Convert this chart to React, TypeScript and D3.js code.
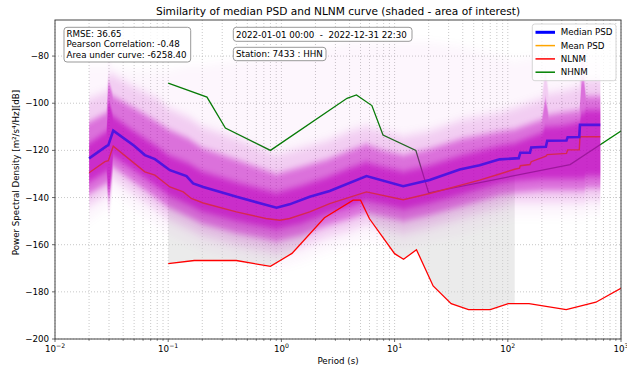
import React from 'react';
import * as d3 from 'd3';

const W = 627, H = 373;
const L = 55, R = 621, T = 20, B = 339;

const X_TICKS = [0.01, 0.1, 1, 10, 100, 1000];
const X_TICK_EXP = ['\u22122', '\u22121', '0', '1', '2', '3'];
const Y_TICKS = [-200, -180, -160, -140, -120, -100, -80];

const NLNM_P = [0.1, 0.17, 0.4, 0.8, 1.24, 2.4, 4.3, 5, 6, 10, 12, 15.6, 21.9, 31.6, 45, 70, 101, 154, 328, 600, 10000];
const NLNM_DB = [-168, -166.7, -166.7, -169.2, -163.7, -148.6, -141.1, -141.1, -149, -163.8, -166.2, -162.1, -177.5, -185, -187.5, -187.5, -185, -185, -187.5, -184.4, -151.9];

const NHNM_P = [0.1, 0.22, 0.32, 0.8, 3.8, 4.6, 6.3, 7.9, 15.4, 20, 354.8, 10000];
const NHNM_DB = [-91.5, -97.4, -110.5, -120, -97.9, -96.5, -101, -113.5, -120, -138, -126, -80.1];

const MED_P = [0.02, 0.0285, 0.0296, 0.0327, 0.05, 0.0622, 0.0763, 0.1035, 0.145, 0.166, 0.204, 0.402, 0.906, 1.18, 1.78, 2.67, 5.64, 11.9, 20.4, 37.6, 56.4, 84.7, 125, 129, 157, 161, 217, 223, 330, 338, 428, 434, 656];
const MED_DB = [-123.4, -118.2, -117.8, -111.6, -118, -122, -123.7, -128.4, -130.9, -134, -135.5, -139.7, -144.3, -142.9, -139.7, -137.2, -130.9, -135.2, -132.6, -128.1, -126.3, -123.8, -123.3, -121, -121, -118.8, -118.5, -115.9, -115.8, -114.4, -114.3, -109.2, -109.2];

const MEAN_P = [0.02, 0.0276, 0.0296, 0.0327, 0.0622, 0.0763, 0.1035, 0.136, 0.16, 0.204, 0.4, 0.73, 0.97, 1.18, 1.78, 2.67, 5.64, 11.9, 20.4, 56.4, 84.7, 115, 127, 129, 157, 161, 217, 223, 330, 338, 428, 434, 656];
const MEAN_DB = [-129.5, -124.8, -124.4, -118.2, -129.1, -130.5, -135.5, -137.6, -140.4, -142.3, -146.1, -148.9, -149.6, -148.9, -146.1, -142.6, -137.6, -140.9, -138.3, -132.6, -130, -128, -127.5, -126.5, -126, -124.8, -122.5, -121.8, -121.3, -119.8, -119.8, -114.2, -114.2];

// Density cloud of the individual PSD curves, summarised as nested bands
const BAND_P = [0.02, 0.0285, 0.0296, 0.0303, 0.0327, 0.05, 0.08, 0.1, 0.15, 0.2, 0.4, 0.9, 1.5, 2.5, 4, 5.6, 8, 12, 20, 40, 85, 115, 200, 215, 230, 300, 430, 450, 470, 490, 660];
const F_HI = [-84, -84, -80, -80, -84, -86, -86, -86, -84, -84, -82, -80, -78, -76, -74, -74, -74, -74, -74, -76, -80, -82, -80, -80, -80, -80, -80, -78, -78, -80, -80];
const M_HI = [-98, -95, -88, -88, -88, -93, -98, -102, -106, -110, -115, -122, -119, -116, -112, -110, -112, -114, -112, -107, -104, -102, -98, -86, -96, -95, -93, -78, -78, -90, -90];
const D_HI = [-108, -104, -92, -92, -97, -102, -108, -111, -115, -119, -124, -130, -127, -124, -120, -117.5, -120, -122, -119.5, -115, -112, -111, -107, -98, -105, -104, -103, -90, -90, -97, -97];
const C_HI = [-117, -112, -100, -100, -105.5, -112, -118.5, -122, -125.5, -129, -133.5, -138, -135, -131.5, -127.5, -125, -127, -129, -126.5, -122, -118, -117, -112.5, -110, -110, -109.5, -108, -104, -104, -103, -103];
const C_LO = [-133.5, -129, -136, -136, -122.5, -128.5, -135.5, -139, -143, -146, -150, -153.5, -151, -147, -144, -141.5, -143, -145, -142.5, -138.5, -134, -133, -132, -132, -132, -132, -132, -132, -132, -131, -131];
const D_LO = [-138.5, -134, -140, -140, -127, -133.5, -140.5, -144, -148, -151, -155, -158.5, -156, -152, -149, -146.5, -148, -150, -147.5, -143.5, -139, -138, -137, -137, -137, -137, -137, -137, -137, -136, -136];
const M_LO = [-143.5, -139, -144, -144, -132, -138.5, -145.5, -149, -153, -156, -160, -163.5, -161, -157, -154, -151.5, -153, -155, -152.5, -148.5, -144, -142, -142, -142, -142, -142, -142, -142, -142, -141, -141];
const F_LO = [-150, -145, -148, -148, -138, -145, -152, -155, -159, -162, -166, -170, -167, -163, -160, -158, -159, -161, -158, -155, -150, -148, -148, -148, -148, -148, -148, -148, -148, -147, -147];

const SHADE_RANGE = [0.1, 115];

const STATS = ['RMSE: 36.65', 'Pearson Correlation: -0.48', 'Area under curve: -6258.40'];
const DATE_TEXT = '2022-01-01 00:00  -  2022-12-31 22:30';
const STATION_TEXT = 'Station: 7433 : HHN';
const LEGEND = [
  { label: 'Median PSD', color: '#0000ff', w: 3 },
  { label: 'Mean PSD', color: '#ffa500', w: 1.5 },
  { label: 'NLNM', color: '#ff0000', w: 1.5 },
  { label: 'NHNM', color: '#008000', w: 1.5 },
];

const FONT = 'DejaVu Sans, sans-serif';
const FS = 8.7;

function interpLog(ps: number[], vs: number[], p: number) {
  for (let i = 0; i < ps.length - 1; i++) {
    if (p >= ps[i] && p <= ps[i + 1]) {
      const t = (Math.log10(p) - Math.log10(ps[i])) / (Math.log10(ps[i + 1]) - Math.log10(ps[i]));
      return vs[i] + t * (vs[i + 1] - vs[i]);
    }
  }
  return vs[vs.length - 1];
}

export default function App() {
  const x = d3.scaleLog().domain([0.01, 1000]).range([L, R]);
  const y = d3.scaleLinear().domain([-200, -64.7]).range([B, T]);
  const line = d3.line<[number, number]>().x(d => x(d[0])).y(d => y(d[1]));
  const zip = (ps: number[], vs: number[]) => ps.map((p, i) => [p, vs[i]] as [number, number]);

  const band = (lo: number[], hi: number[]) =>
    d3.area<number>().x(i => x(BAND_P[i])).y0(i => y(lo[i])).y1(i => y(hi[i]))(BAND_P.map((_, i) => i)) || '';

  const [s0, s1] = SHADE_RANGE;
  const top: [number, number][] = [[s0, interpLog(MEAN_P, MEAN_DB, s0)],
    ...zip(MEAN_P, MEAN_DB).filter(d => d[0] > s0 && d[0] < s1),
    [s1, interpLog(MEAN_P, MEAN_DB, s1)]];
  const bot: [number, number][] = [[s1, interpLog(NLNM_P, NLNM_DB, s1)],
    ...zip(NLNM_P, NLNM_DB).filter(d => d[0] > s0 && d[0] < s1).reverse(),
    [s0, interpLog(NLNM_P, NLNM_DB, s0)]];
  const shadePath = (line([...top, ...bot]) || '') + 'Z';

  const minors: number[] = [];
  for (let e = -2; e < 3; e++) for (let k = 2; k < 10; k++) minors.push(k * Math.pow(10, e));

  const M = '#bf00bf';
  const x0 = x(BAND_P[0]), x1 = x(BAND_P[BAND_P.length - 1]);

  return (
    <div style={{ position: 'fixed', left: 0, top: 0 }}>
      <svg width={W} height={H} style={{ display: 'block', background: '#fff' }} fontFamily={FONT}>
        <defs>
          <clipPath id="plot"><rect x={L} y={T} width={R - L} height={B - T} /></clipPath>
          <clipPath id="cloudx"><rect x={x0} y={T} width={x1 - x0} height={B - T} /></clipPath>
          <filter id="soft4" x="-10%" y="-20%" width="120%" height="140%">
            <feGaussianBlur stdDeviation="0 5" />
          </filter>
          <filter id="soft2" x="-10%" y="-20%" width="120%" height="140%">
            <feGaussianBlur stdDeviation="0 3" />
          </filter>
        </defs>
        <g stroke="#b0b0b0" strokeWidth={0.7} strokeDasharray="1,2">
          {[...X_TICKS, ...minors].map((t, i) => <line key={'gx' + i} x1={x(t)} x2={x(t)} y1={T} y2={B} />)}
          {Y_TICKS.map((t, i) => <line key={'gy' + i} x1={L} x2={R} y1={y(t)} y2={y(t)} />)}
        </g>
        <g clipPath="url(#plot)">
          <path d={shadePath} fill="#d3d3d3" fillOpacity={0.45} />
          <path d={line(zip(NHNM_P, NHNM_DB)) || ''} fill="none" stroke="#008000" strokeWidth={1.3} />
          <g clipPath="url(#cloudx)">
            <g filter="url(#soft4)">
              <path d={band(F_LO, F_HI)} fill={M} fillOpacity={0.035} />
              <path d={band(M_LO, M_HI)} fill={M} fillOpacity={0.17} />
            </g>
            <g filter="url(#soft2)">
              <path d={band(D_LO, D_HI)} fill={M} fillOpacity={0.45} />
              <path d={band(C_LO, C_HI)} fill={M} fillOpacity={0.6} />
            </g>
          </g>
          <path d={line(zip(MEAN_P, MEAN_DB)) || ''} fill="none" stroke="#d72850" strokeWidth={1.4} />
          <path d={line(zip(MED_P, MED_DB)) || ''} fill="none" stroke="#5014e0" strokeWidth={2.6} />
          <path d={line(zip(NLNM_P, NLNM_DB)) || ''} fill="none" stroke="#ff0000" strokeWidth={1.3} />
        </g>
        <rect x={L} y={T} width={R - L} height={B - T} fill="none" stroke="#444" strokeWidth={1} />
        <g stroke="#444" strokeWidth={0.8}>
          {X_TICKS.map((t, i) => <line key={'xt' + i} x1={x(t)} x2={x(t)} y1={B} y2={B + 3} />)}
          {minors.map((t, i) => <line key={'xm' + i} x1={x(t)} x2={x(t)} y1={B} y2={B + 1.7} />)}
          {Y_TICKS.map((t, i) => <line key={'yt' + i} x1={L - 3} x2={L} y1={y(t)} y2={y(t)} />)}
        </g>
        <g fontSize={FS} fill="#000">
          {X_TICKS.map((t, i) => (
            <text key={'xl' + i} x={x(t)} y={352} textAnchor="middle">
              10<tspan fontSize={6.2} dy={-4}>{X_TICK_EXP[i]}</tspan>
            </text>
          ))}
          {Y_TICKS.map((t, i) => (
            <text key={'yl' + i} x={L - 6} y={y(t)} textAnchor="end" dominantBaseline="central">
              {'\u2212' + Math.abs(t)}
            </text>
          ))}
          <text x={(L + R) / 2} y={364} textAnchor="middle">Period (s)</text>
          <text transform={`translate(18.5,172.5) rotate(-90)`} textAnchor="middle">Power Spectral Density [m²/s⁴/Hz][dB]</text>
        </g>
        <text x={(L + R) / 2} y={15} textAnchor="middle" fontSize={10.6}>Similarity of median PSD and NLNM curve (shaded - area of interest)</text>
        <rect x={64} y={27.3} width={126.7} height={34.7} rx={3} fill="#fff" fillOpacity={0.8} stroke="#999" strokeWidth={1} />
        {STATS.map((s, i) => (
          <text key={'st' + i} x={66.5} y={36.7 + i * 10.4} fontSize={FS}>{s}</text>
        ))}
        <rect x={233.3} y={27.3} width={178.7} height={14} rx={3} fill="#fff" fillOpacity={0.8} stroke="#999" strokeWidth={1} />
        <text x={236} y={37.6} fontSize={FS} style={{ whiteSpace: 'pre' }}>{DATE_TEXT}</text>
        <rect x={233.3} y={47.3} width={92.7} height={13.4} rx={3} fill="#fff" fillOpacity={0.8} stroke="#999" strokeWidth={1} />
        <text x={236} y={57.4} fontSize={FS}>{STATION_TEXT}</text>
        <rect x={532.3} y={24} width={83.7} height={56.7} rx={2.5} fill="#fff" fillOpacity={0.8} stroke="#ccc" strokeWidth={0.8} />
        {LEGEND.map((d, i) => (
          <g key={'lg' + i}>
            <line x1={535.5} x2={555} y1={32.3 + i * 13.3} y2={32.3 + i * 13.3} stroke={d.color} strokeWidth={d.w} />
            <text x={560.7} y={32.3 + i * 13.3} dominantBaseline="central" fontSize={FS}>{d.label}</text>
          </g>
        ))}
      </svg>
    </div>
  );
}
